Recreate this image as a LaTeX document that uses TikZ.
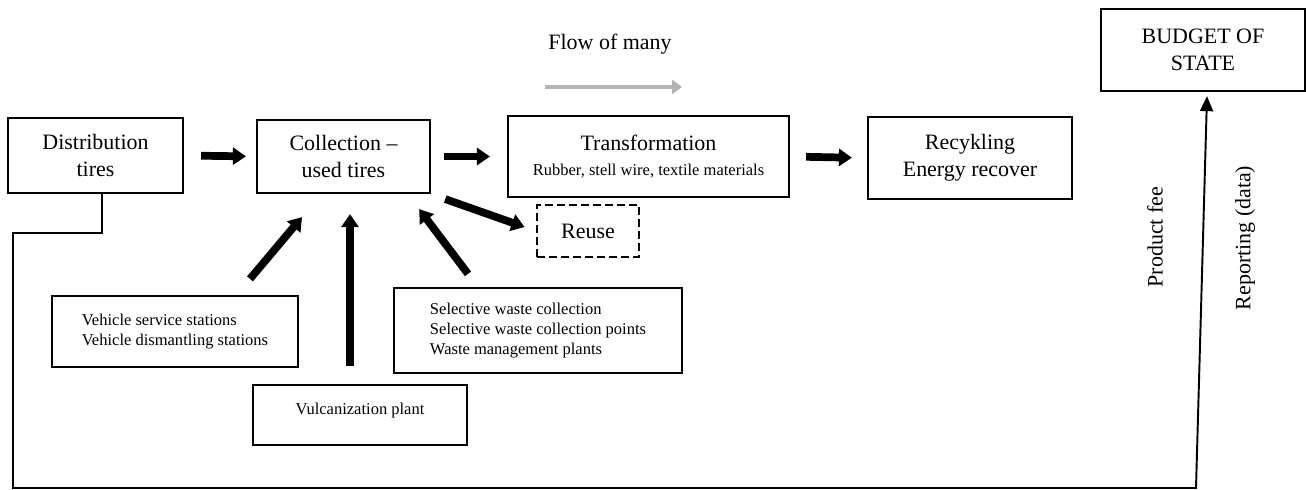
\documentclass[tikz,border=0pt]{standalone}
\usepackage{fontspec}
\setmainfont{Liberation Serif}
\usepackage{tikz}
\usetikzlibrary{arrows.meta,calc}
\usepackage{xcolor}
\definecolor{FlowGray}{HTML}{B4B4B4}

\tikzset{
  box/.style={draw,line width=1.3pt,align=center,inner sep=0pt,font=\fontsize{12.5}{15.3}\selectfont},
  smallbox/.style={box,font=\fontsize{9.4}{11.3}\selectfont},
  fat/.style={-{Triangle[length=0.26cm,width=0.34cm]},line width=4.4pt},
  feeline/.style={-{Triangle[length=0.3cm,width=0.26cm]},line width=1.1pt},
  sidelabel/.style={rotate=90,font=\fontsize{12.5}{15}\selectfont}
}

\begin{document}
\begin{tikzpicture}[x=0.02cm,y=-0.02cm]
    \useasboundingbox (0,0) rectangle (1306,490);
    % main chain
    \node[box,minimum width=3.5cm,minimum height=1.5cm] (dist) at (95.5,155.5) {Distribution\\tires};
    \node[box,minimum width=3.46cm,minimum height=1.46cm] (coll) at (343.5,156.5) {Collection --\\used tires};
    \node[box,minimum width=5.62cm,minimum height=1.62cm] (trans) at (648.5,156.5)
      {Transformation\\[-1pt]{\fontsize{9.4}{11.3}\selectfont Rubber, stell wire, textile materials}};
    \node[box,minimum width=4.08cm,minimum height=1.64cm] (recyc) at (970,158) {Recykling\\Energy recover};
    \node[box,minimum width=4.08cm,minimum height=1.64cm] (budget) at (1203,50) {BUDGET OF\\STATE};
    \node[box,dash pattern=on 0.16cm off 0.08cm,minimum width=2.04cm,minimum height=1.04cm] (reuse) at (588,231) {Reuse};
    % sources
    \node[smallbox,align=left,minimum width=4.92cm,minimum height=1.42cm] (vehicle) at (175,331.5)
      {Vehicle service stations\\Vehicle dismantling stations};
    \node[smallbox,minimum width=4.28cm,minimum height=1.2cm] (vulc) at (360,415) {Vulcanization plant\\[-4pt]\mbox{}};
    \node[smallbox,align=left,minimum width=5.76cm,minimum height=1.7cm] (select) at (538,330.5)
      {Selective waste collection\\Selective waste collection points\\Waste management plants};

    \node[font=\fontsize{12.5}{15}\selectfont] (flow) at (610,44) {Flow of many};
    \coordinate (flowA) at (545,87);
    \coordinate (flowB) at (682,87);
    \draw[-{Triangle[length=0.2cm,width=0.28cm]},line width=2.8pt,FlowGray] (flowA) -- (flowB);

    \draw[fat,shorten <=0.34cm,shorten >=0.2cm] (dist.east) -- (coll.west);
    \draw[fat,shorten <=0.26cm,shorten >=0.34cm] (coll.east) -- (trans.west);
    \draw[fat,shorten <=0.32cm,shorten >=0.3cm] (trans.east) -- (recyc.west);
    \draw[fat,shorten <=0.3cm,shorten >=0.24cm] (coll.south east) -- (reuse.west);
    \draw[fat] ($(vehicle.north)+(75,-16)$) -- ($(coll.south)+(-41.5,23)$);
    \draw[fat] ($(vulc.north)+(-10,-18)$) -- ($(coll.south)+(6.5,20)$);
    \draw[fat] ($(select.north)+(-70,-13)$) -- ($(coll.south east)+(-12,15)$);

    % product fee line to the state budget
    \coordinate (bend) at (13,233);
    \coordinate (lowleft) at (13,488);
    \coordinate (lowright) at (1196,488);
    \draw[feeline] ($(dist.south)+(6.5,0)$) |- (bend) -- (lowleft) -- (lowright) -- ($(budget.south)+(4,4)$);
    \node[sidelabel] (fee) at (1155,237) {Product fee};
    \node[sidelabel] (report) at (1245,238) {Reporting (data)};
\end{tikzpicture}
\end{document}
